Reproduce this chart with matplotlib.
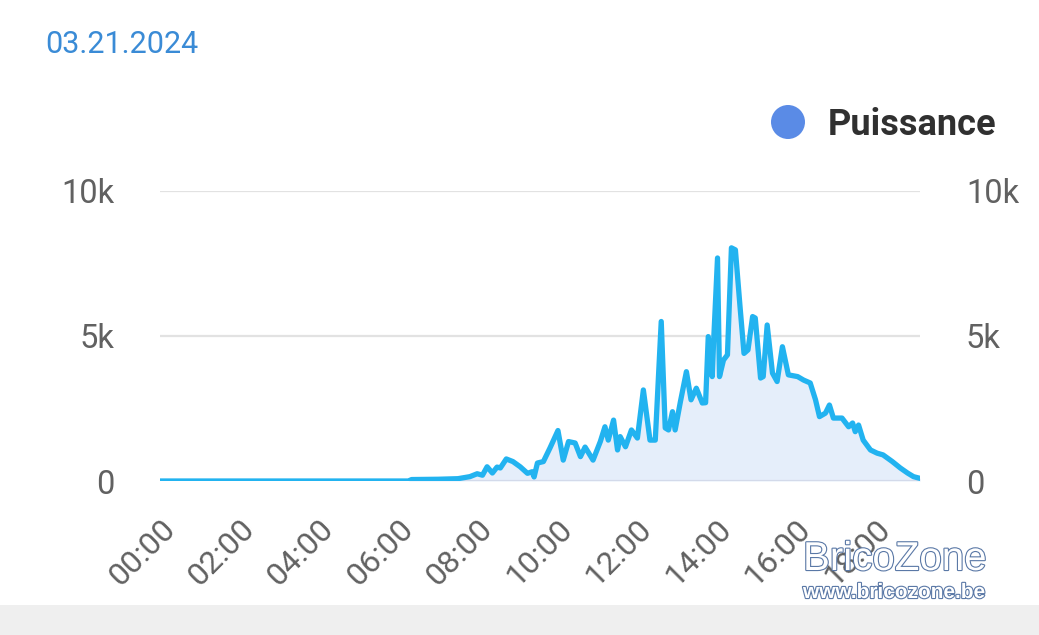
#!/usr/bin/env python3
"""Daily solar power curve (Puissance) for 21 March 2024."""

import matplotlib
matplotlib.use("Agg")
import matplotlib.pyplot as plt
import matplotlib.patheffects as pe
from matplotlib.patches import Rectangle, Ellipse

TITLE = "03.21.2024"
SERIES_NAME = "Puissance"

TIMES = [
    "00:00", "06:15", "06:20", "07:00", "07:30", "07:48", "07:59", "08:07", "08:14",
    "08:22", "08:29", "08:34", "08:43", "08:53", "09:04", "09:15", "09:22", "09:25",
    "09:30", "09:39", "09:49", "10:01", "10:09", "10:17", "10:27", "10:35", "10:42",
    "10:54", "11:05", "11:12", "11:17", "11:25", "11:31", "11:35", "11:43", "11:52",
    "12:01", "12:10", "12:20", "12:28", "12:37", "12:43", "12:48", "12:54", "12:58",
    "13:06", "13:15", "13:22", "13:30", "13:39", "13:44", "13:48", "13:54", "13:56",
    "14:02", "14:05", "14:11", "14:17", "14:23", "14:29", "14:36", "14:42", "14:48",
    "14:55", "14:59", "15:07", "15:11", "15:17", "15:25", "15:32", "15:40", "15:49",
    "16:03", "16:12", "16:22", "16:30", "16:36", "16:45", "16:51", "16:57", "17:10",
    "17:20", "17:26", "17:30", "17:35", "17:42", "17:53", "18:03", "18:12", "18:26",
    "18:38", "18:49", "18:58", "19:08",
]
POWER_W = [
    0, 0, 50, 60, 80, 150, 250, 200, 490,
    275, 480, 450, 760, 670, 490, 265, 320, 140,
    620, 670, 1140, 1740, 720, 1360, 1310, 840, 1170,
    720, 1360, 1870, 1410, 2100, 1070, 1530, 1180, 1760,
    1480, 3140, 1410, 1410, 5500, 1830, 1760, 2390, 1760,
    2740, 3770, 2800, 3200, 2690, 2700, 4980, 3600, 4760,
    7690, 3600, 4170, 4350, 8040, 7970, 6010, 4400, 4520,
    5670, 5620, 3550, 3600, 5380, 3720, 3430, 4630, 3660,
    3600, 3480, 3380, 2800, 2220, 2340, 2620, 2170, 2170,
    1870, 2000, 1700, 1930, 1410, 1070, 960, 900, 670,
    450, 275, 150, 90,
]
TICK_HOURS = list(range(0, 19, 2))
Y_TICKS = [0, 5000, 10000]
Y_LABELS = ["0", "5k", "10k"]

LINE_COLOR = "#22b3f0"
FILL_COLOR = "#e5eefa"
LEGEND_DOT = "#5a8be6"
TEXT_GRAY = "#616161"


def to_hours(t):
    h, m = t.split(":")
    return int(h) + int(m) / 60.0


def main():
    plt.rcParams["font.family"] = ["Roboto", "DejaVu Sans"]
    hours = [to_hours(t) for t in TIMES]

    fig = plt.figure(figsize=(10.39, 6.35), dpi=100)
    fig.patch.set_facecolor("white")

    # grey band at the bottom of the screenshot
    fig.patches.append(Rectangle((0, 0), 1, 30 / 635, transform=fig.transFigure,
                                 facecolor="#efefef", edgecolor="none", zorder=0))

    ax = fig.add_axes([160 / 1039, 1 - 481 / 635, 760 / 1039, 290 / 635])
    ax.fill_between(hours, POWER_W, 0, color=FILL_COLOR, zorder=1, linewidth=0)
    ax.plot(hours, POWER_W, color=LINE_COLOR, linewidth=3.8, solid_joinstyle="round",
            solid_capstyle="round", zorder=3)

    ax.set_xlim(0, 19.13)
    ax.set_ylim(0, 10000)
    for v in Y_TICKS[1:]:
        ax.axhline(v, color="#e2e2e2", linewidth=1.6, zorder=0)
    ax.axhline(0, color="#d3daea", linewidth=1.6, zorder=2)

    for s in ax.spines.values():
        s.set_visible(False)

    ax.set_yticks(Y_TICKS)
    ax.set_yticklabels(Y_LABELS)
    ax.tick_params(axis="y", length=0, pad=33, labelsize=23.5, labelcolor=TEXT_GRAY,
                   labelright=True, right=False)
    for lab in ax.get_yticklabels() + ax.yaxis.get_ticklabels(which="major"):
        lab.set_va("center_baseline")
    for t in ax.yaxis.get_major_ticks():
        t.label2.set_va("center_baseline")
    ax.set_xticks(TICK_HOURS)
    ax.set_xticklabels([f"{h:02d}:00" for h in TICK_HOURS], rotation=45,
                       ha="right", va="top", rotation_mode="anchor")
    ax.tick_params(axis="x", length=0, pad=24, labelsize=23, labelcolor=TEXT_GRAY)

    fig.text(45 / 1039, 1 - 53 / 635, TITLE, color="#3a8bd6", fontsize=22,
             ha="left", va="baseline")

    fig.patches.append(Ellipse((788 / 1039, 1 - 122 / 635), 34 / 1039, 34 / 635,
                               transform=fig.transFigure, facecolor=LEGEND_DOT,
                               edgecolor="none"))
    fig.text(828 / 1039, 1 - 135 / 635, SERIES_NAME, color="#303030", fontsize=26,
             fontweight="bold", ha="left", va="baseline")

    outline = [pe.withStroke(linewidth=1.6, foreground="#5a78a6")]
    fig.text(803 / 1039, 1 - 570 / 635, "BricoZone", family="Liberation Sans",
             fontsize=29, color="white", ha="left", va="baseline", path_effects=outline)
    fig.text(803 / 1039, 1 - 598 / 635, "www.bricozone.be", family="Liberation Sans",
             fontsize=15, fontweight="bold", color="white", ha="left", va="baseline",
             path_effects=outline)

    fig.savefig("out.png", dpi=100)


if __name__ == "__main__":
    main()
